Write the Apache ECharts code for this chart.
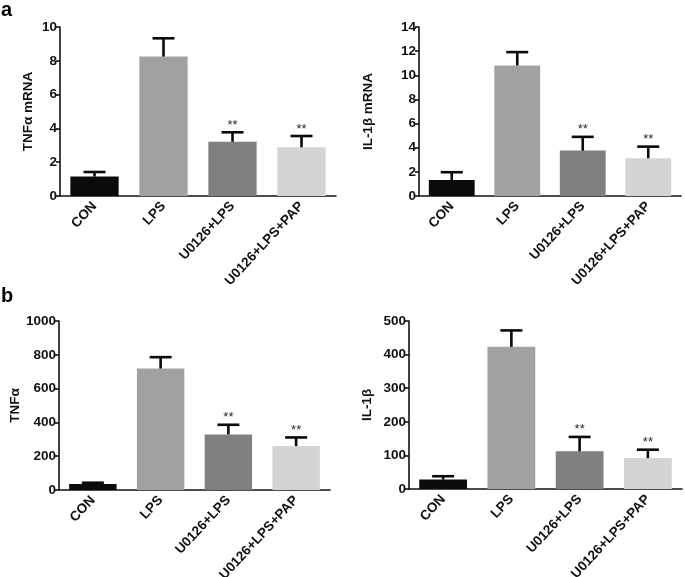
<!DOCTYPE html>
<html>
<head>
<meta charset="utf-8">
<script src="https://cdn.jsdelivr.net/npm/echarts@6/dist/echarts.min.js"></script>
<style>
html,body{margin:0;padding:0;background:#fff;}
#chart{width:685px;height:577px;}
</style>
</head>
<body>
<div id="chart"></div>
<script>
// ---- data ----
const categories = ['CON', 'LPS', 'U0126+LPS', 'U0126+LPS+PAP'];
const barColors = ['#0b0b0b', '#a1a1a1', '#808080', '#d4d4d4'];
const stars = ['', '', '**', '**'];

const tnfMrnaMean = [1.15, 8.25, 3.21, 2.88];
const tnfMrnaErr  = [0.27, 1.08, 0.56, 0.67];

const il1bMrnaMean = [1.33, 10.81, 3.76, 3.13];
const il1bMrnaErr  = [0.64, 1.11, 1.14, 0.96];

const tnfProtMean = [35, 719, 329, 260];
const tnfProtErr  = [8, 67, 57, 51];

const il1bProtMean = [28, 423, 112, 92];
const il1bProtErr  = [10, 49, 43, 25];

const panels = [
  {name: 'TNFα mRNA', mean: tnfMrnaMean, err: tnfMrnaErr, max: 10, interval: 2,
   grid: {left: 60, top: 27, width: 276, height: 169}, nameGap: 25},
  {name: 'IL-1β mRNA', mean: il1bMrnaMean, err: il1bMrnaErr, max: 14, interval: 2,
   grid: {left: 419, top: 27, width: 262, height: 169}, nameGap: 44},
  {name: 'TNFα', mean: tnfProtMean, err: tnfProtErr, max: 1000, interval: 200,
   grid: {left: 59, top: 321, width: 271, height: 169}, nameGap: 37},
  {name: 'IL-1β', mean: il1bProtMean, err: il1bProtErr, max: 500, interval: 100,
   grid: {left: 409, top: 321, width: 273, height: 168}, nameGap: 35}
];

const FONT = '"Liberation Sans", Arial, Helvetica, sans-serif';
const chart = echarts.init(document.getElementById('chart'), null, {renderer: 'canvas'});

const grids = [], xAxes = [], yAxes = [], series = [];
panels.forEach((p, k) => {
  grids.push(Object.assign({containLabel: false, outerBoundsMode: 'none'}, p.grid));
  xAxes.push({
    type: 'category', gridIndex: k, data: categories,
    axisLine: {lineStyle: {color: '#111', width: 1.6}},
    axisTick: {alignWithLabel: true, length: 4, lineStyle: {color: '#111', width: 1.6}},
    axisLabel: {rotate: 47, margin: 8, color: '#111', fontWeight: 'bold', fontSize: 13.5, fontFamily: FONT, interval: 0}
  });
  yAxes.push({
    type: 'value', gridIndex: k, min: 0, max: p.max, interval: p.interval,
    name: p.name, nameLocation: 'middle', nameGap: p.nameGap,
    nameTextStyle: {color: '#111', fontWeight: 'bold', fontSize: 13.5, fontFamily: FONT},
    splitLine: {show: false},
    axisLine: {show: true, lineStyle: {color: '#111', width: 1.6}},
    axisTick: {show: true, length: 4, lineStyle: {color: '#111', width: 1.6}},
    axisLabel: {margin: 3, color: '#111', fontWeight: 'bold', fontSize: 13.5, fontFamily: FONT,
      formatter: v => String(v)}
  });
  series.push({
    type: 'bar', xAxisIndex: k, yAxisIndex: k, barWidth: '70%',
    data: p.mean.map((v, i) => ({value: v, itemStyle: {color: barColors[i]}})),
    animation: false, silent: true
  });
  series.push({
    type: 'custom', xAxisIndex: k, yAxisIndex: k, animation: false, silent: true, z: 5,
    data: p.mean.map((v, i) => [i, v, p.err[i]]),
    renderItem: function (params, api) {
      const i = api.value(0), m = api.value(1), e = api.value(2);
      const a = api.coord([i, m]);
      const b = api.coord([i, m + e]);
      const style = {stroke: '#0a0a0a', lineWidth: 2.6};
      const children = [
        {type: 'line', shape: {x1: a[0], y1: a[1], x2: b[0], y2: b[1]}, style: style},
        {type: 'line', shape: {x1: b[0] - 11, y1: b[1], x2: b[0] + 11, y2: b[1]}, style: style}
      ];
      const s = stars[params.dataIndex];
      if (s) {
        children.push({type: 'text', x: b[0], y: b[1] - 7,
          style: {text: s, fill: '#2a2a2a', font: '13px ' + FONT, align: 'center', verticalAlign: 'middle'}});
      }
      return {type: 'group', children: children};
    }
  });
});

chart.setOption({
  animation: false,
  backgroundColor: '#fff',
  grid: grids, xAxis: xAxes, yAxis: yAxes, series: series,
  graphic: [
    {type: 'text', left: 1, top: 0, style: {text: 'a', fill: '#000', font: 'bold 20px ' + FONT}},
    {type: 'text', left: 1, top: 286, style: {text: 'b', fill: '#000', font: 'bold 20px ' + FONT}}
  ]
});
</script>
</body>
</html>
